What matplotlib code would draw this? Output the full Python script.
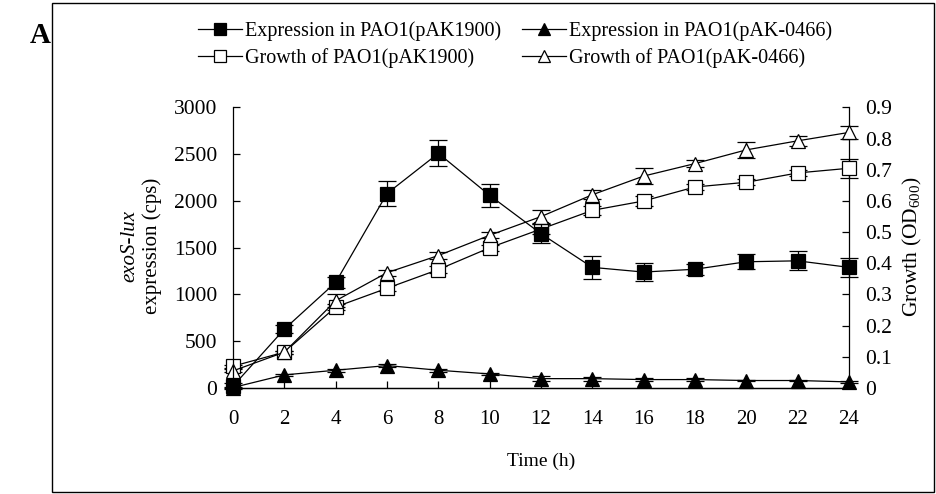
import matplotlib
matplotlib.use("Agg")
import matplotlib.pyplot as plt
from matplotlib.lines import Line2D
from matplotlib.patches import Rectangle

plt.rcParams["font.family"] = ["Liberation Serif", "DejaVu Serif"]
plt.rcParams["mathtext.fontset"] = "custom"
plt.rcParams["mathtext.rm"] = "Liberation Serif"
plt.rcParams["mathtext.it"] = "Liberation Serif:italic"

# sampling times (h)
hours = [0, 2, 4, 6, 8, 10, 12, 14, 16, 18, 20, 22, 24]

# exoS-lux expression (cps)
expr_1900 = [20, 630, 1130, 2080, 2510, 2060, 1650, 1290, 1240, 1270, 1350, 1360, 1290]
expr_1900_err = [30, 40, 60, 130, 140, 120, 100, 120, 100, 60, 80, 100, 100]
expr_0466 = [5, 140, 190, 240, 190, 150, 100, 100, 90, 90, 80, 80, 65]
expr_0466_err = [5, 10, 15, 20, 15, 15, 30, 20, 15, 15, 10, 10, 10]

# growth (OD600)
growth_1900 = [0.07, 0.115, 0.26, 0.32, 0.38, 0.45, 0.51, 0.57, 0.60, 0.645, 0.66, 0.69, 0.705]
growth_1900_err = [0.005, 0.005, 0.01, 0.01, 0.01, 0.01, 0.015, 0.015, 0.015, 0.01, 0.01, 0.01, 0.03]
growth_0466 = [0.055, 0.115, 0.28, 0.37, 0.425, 0.49, 0.55, 0.62, 0.68, 0.72, 0.764, 0.793, 0.82]
growth_0466_err = [0.005, 0.005, 0.02, 0.01, 0.01, 0.01, 0.02, 0.015, 0.025, 0.01, 0.025, 0.015, 0.02]

fs = 15
ms = 10.5

fig = plt.figure(figsize=(9.36, 4.94), dpi=100)
ax = fig.add_axes([0.249, 0.2146, 0.658, 0.5678])
ax2 = ax.twinx()

common = dict(color="black", lw=0.9, elinewidth=0.9, capsize=6.5, capthick=0.9,
              markersize=ms, markeredgecolor="black", markeredgewidth=0.9, clip_on=False)

# growth curves on the OD axis, expression curves on the cps axis
ax2.errorbar(hours, growth_1900, yerr=growth_1900_err, marker="s",
             markerfacecolor="white", zorder=3, **common)
ax2.errorbar(hours, growth_0466, yerr=growth_0466_err, marker="^",
             markerfacecolor="white", zorder=3, **common)
ax.set_zorder(ax2.get_zorder() + 1)
ax.patch.set_visible(False)
ax.errorbar(hours, expr_1900, yerr=expr_1900_err, marker="s",
            markerfacecolor="black", zorder=4, **common)
ax.errorbar(hours, expr_0466, yerr=expr_0466_err, marker="^",
            markerfacecolor="black", zorder=4, **common)

ax.set_xlim(0, 24)
ax.set_ylim(0, 3000)
ax2.set_ylim(0, 0.9)
ax.set_xticks(hours)
ax.set_yticks(range(0, 3001, 500))
ax2.set_yticks([i / 10 for i in range(10)])
ax2.set_yticklabels(["0"] + [f"{i / 10:.1f}" for i in range(1, 10)])

for a in (ax, ax2):
    a.spines["top"].set_visible(False)
    for s in a.spines.values():
        s.set_linewidth(0.9)
    a.tick_params(direction="in", length=5, width=0.9, labelsize=fs + 0.5, pad=11.5)
ax.spines["right"].set_visible(False)
ax2.spines["left"].set_visible(False)
ax.tick_params(axis="x", labelsize=fs, pad=16)
ax2.tick_params(axis="y", pad=12)

fig.text(0.578, 0.067, "Time (h)", ha="center", va="center", fontsize=fs - 1)
fig.text(0.975, 0.5, "Growth (OD$_{600}$)", rotation=90, ha="center", va="center",
         fontsize=fs + 0.5)
fig.text(0.139, 0.502, "exoS-lux", rotation=90, ha="center", va="center",
         fontsize=fs, style="italic")
fig.text(0.163, 0.502, "expression (cps)", rotation=90, ha="center", va="center",
         fontsize=fs)

# legend proxies: line with marker, no error bars
lkw = dict(color="black", lw=0.9, markersize=8.5, markeredgecolor="black",
           markeredgewidth=0.9)
handles = [
    Line2D([], [], marker="s", markerfacecolor="black", **lkw),
    Line2D([], [], marker="s", markerfacecolor="white", **lkw),
    Line2D([], [], marker="^", markerfacecolor="black", **lkw),
    Line2D([], [], marker="^", markerfacecolor="white", **lkw),
]
labels = [
    "Expression in PAO1(pAK1900)",
    "Growth of PAO1(pAK1900)",
    "Expression in PAO1(pAK-0466)",
    "Growth of PAO1(pAK-0466)",
]
fig.legend(handles=handles, labels=labels, ncol=2, loc="upper left",
           bbox_to_anchor=(198 / 936, 0.957), frameon=False, borderpad=0,
           borderaxespad=0, fontsize=fs - 0.5, handlelength=2.2, handletextpad=0.15,
           columnspacing=1.0, labelspacing=0.35)

fig.text(0.043, 0.929, "A", fontsize=21, fontweight="bold", ha="center", va="center")
fig.patches.append(Rectangle((0.056, 0.004), 0.942, 0.990, transform=fig.transFigure,
                             fill=False, lw=1.0, edgecolor="black"))

fig.savefig("out.png", dpi=100)
